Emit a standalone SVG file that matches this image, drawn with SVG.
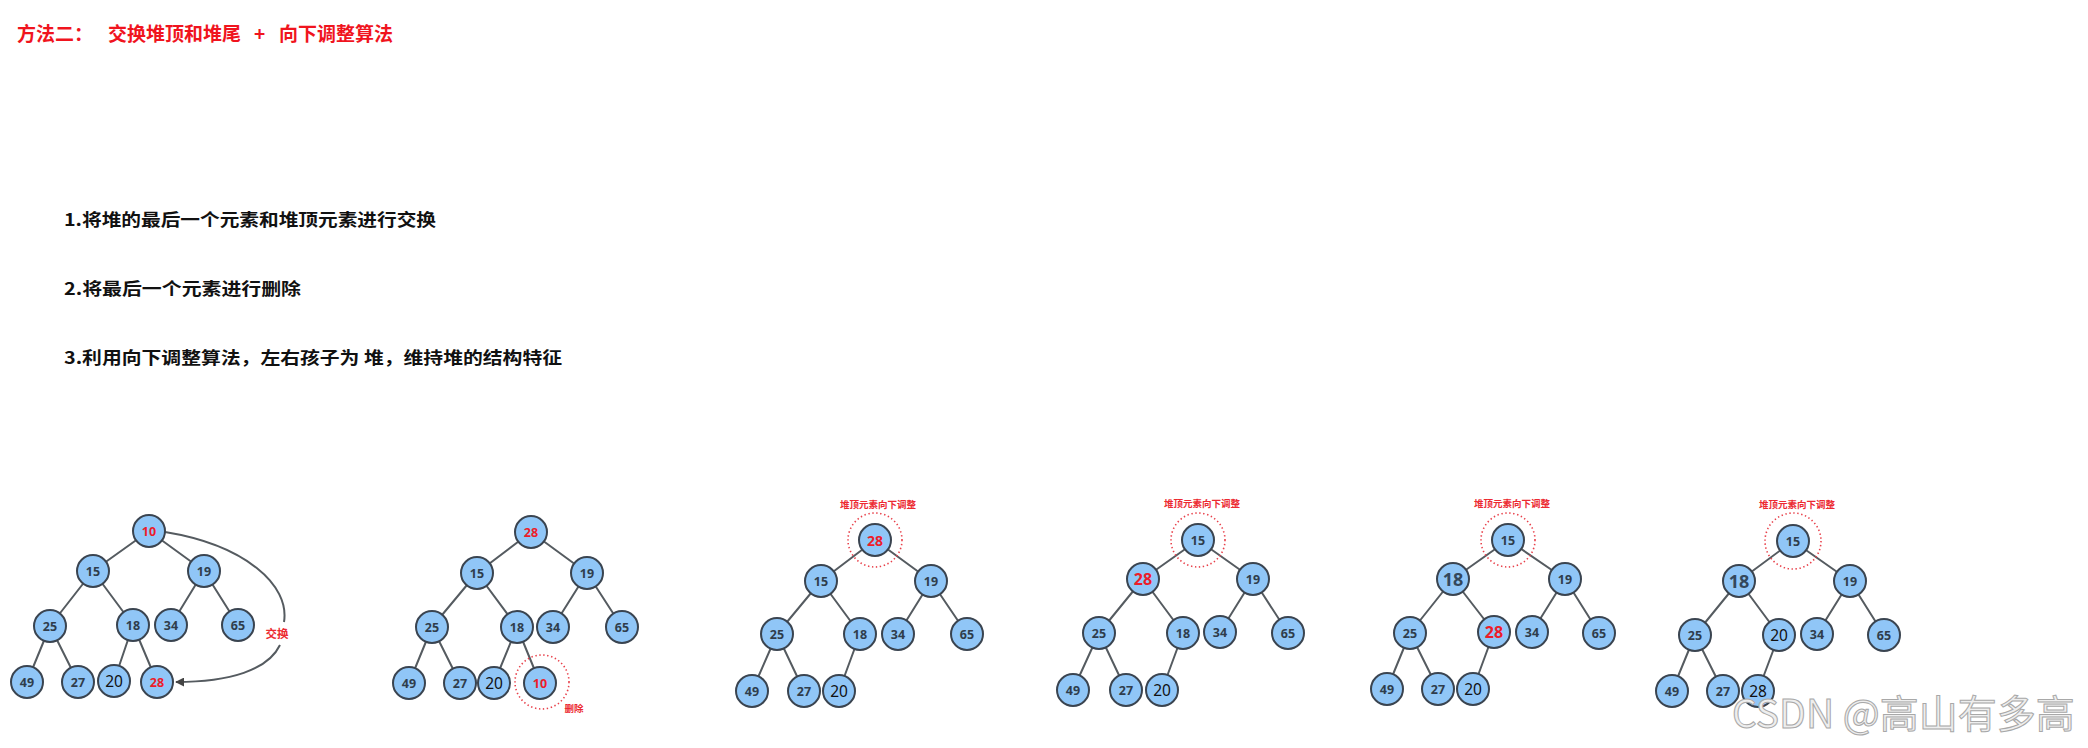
<svg xmlns="http://www.w3.org/2000/svg" width="2088" height="748" viewBox="0 0 2088 748">
<defs>
<style>
.bg{fill:#ffffff}
.title{font-family:"Noto Sans CJK SC","Noto Sans",sans-serif;font-weight:bold;font-size:19px;fill:#f0141e}
.step{font-family:"Noto Sans CJK SC","Noto Sans",sans-serif;font-weight:bold;font-size:17px;fill:#111111}
.e{stroke:#555b60;stroke-width:2;fill:none}
.n circle{fill:#90c6f7;stroke:#3a4450;stroke-width:2}
.n text{font-family:"Noto Sans","Liberation Sans",sans-serif;font-weight:bold;font-size:12.5px;fill:#2f3d4c;text-anchor:middle;dominant-baseline:central}
.n.r text{fill:#ec1c2a}
.n.p text{font-weight:normal;font-size:15.5px;fill:#111111}
.n.big text{font-size:18px;fill:#34485c}
.n.rb text{font-size:16px;fill:#ec1c2a}
.dot{fill:none;stroke:#e8404a;stroke-width:1.6;stroke-dasharray:1.4 2.6}
.lbl{font-family:"Noto Sans CJK SC","Noto Sans",sans-serif;font-weight:bold;font-size:9.5px;fill:#ec2a32;text-anchor:middle}
.wm{font-family:"Noto Sans CJK SC","Noto Sans",sans-serif;font-size:39px;fill:#eeeeee;stroke:#a8a8a8;stroke-width:1}
</style>
<marker id="ah" viewBox="0 0 10 10" refX="9" refY="5" markerWidth="9" markerHeight="9" orient="auto" markerUnits="userSpaceOnUse">
<path d="M0,0 L10,5 L0,10 z" fill="#444"/>
</marker>
</defs>
<rect class="bg" x="0" y="0" width="2088" height="748"/>

<g id="title">
<text class="title" y="41"><tspan x="17">方法二：</tspan><tspan x="108">交换堆顶和堆尾</tspan><tspan x="254">+</tspan><tspan x="279">向下调整算法</tspan></text>
</g>
<g id="steps">
<text class="step" x="64" y="226" textLength="372" lengthAdjust="spacingAndGlyphs">1.将堆的最后一个元素和堆顶元素进行交换</text>
<text class="step" x="64" y="295" textLength="237" lengthAdjust="spacingAndGlyphs">2.将最后一个元素进行删除</text>
<text class="step" x="64" y="364" textLength="498" lengthAdjust="spacingAndGlyphs">3.利用向下调整算法，左右孩子为 堆，维持堆的结构特征</text>
</g>

<g id="connectors">
<!-- tree 1 -->
<path class="e" d="M149,531L93,571M149,531L204,571M93,571L50,626M93,571L133,625M204,571L171,625M204,571L238,625M50,626L27,682M50,626L78,682M133,625L114,681M133,625L157,682"/>
<path class="e" d="M165,532 C245,545 290,585 284,622" />
<path class="e" d="M280,645 C268,670 230,682 176,682" marker-end="url(#ah)"/>
<!-- tree 2 -->
<path class="e" d="M531,532L477,573M531,532L587,573M477,573L432,627M477,573L517,627M587,573L553,627M587,573L622,627M432,627L409,683M432,627L460,683M517,627L494,683M517,627L540,683"/>
<!-- tree 3 -->
<path class="e" d="M875,540L821,581M875,540L931,581M821,581L777,634M821,581L860,634M931,581L898,634M931,581L967,634M777,634L752,691M777,634L804,691M860,634L839,691"/>
<!-- tree 4 -->
<path class="e" d="M1198,540L1143,579M1198,540L1253,579M1143,579L1099,633M1143,579L1183,633M1253,579L1220,632M1253,579L1288,633M1099,633L1073,690M1099,633L1126,690M1183,633L1162,690"/>
<!-- tree 5 -->
<path class="e" d="M1508,540L1453,579M1508,540L1565,579M1453,579L1410,633M1453,579L1494,632M1565,579L1532,632M1565,579L1599,633M1410,633L1387,689M1410,633L1438,689M1494,632L1473,689"/>
<!-- tree 6 -->
<path class="e" d="M1793,541L1739,581M1793,541L1850,581M1739,581L1695,635M1739,581L1779,635M1850,581L1817,634M1850,581L1884,635M1695,635L1672,691M1695,635L1723,691M1779,635L1758,691"/>
</g>

<!-- tree 1 nodes -->
<g id="t1-10" class="n r"><circle cx="149" cy="531" r="16"/><text x="149" y="531">10</text></g>
<g id="t1-15" class="n"><circle cx="93" cy="571" r="16"/><text x="93" y="571">15</text></g>
<g id="t1-19" class="n"><circle cx="204" cy="571" r="16"/><text x="204" y="571">19</text></g>
<g id="t1-25" class="n"><circle cx="50" cy="626" r="16"/><text x="50" y="626">25</text></g>
<g id="t1-18" class="n"><circle cx="133" cy="625" r="16"/><text x="133" y="625">18</text></g>
<g id="t1-34" class="n"><circle cx="171" cy="625" r="16"/><text x="171" y="625">34</text></g>
<g id="t1-65" class="n"><circle cx="238" cy="625" r="16"/><text x="238" y="625">65</text></g>
<g id="t1-49" class="n"><circle cx="27" cy="682" r="16"/><text x="27" y="682">49</text></g>
<g id="t1-27" class="n"><circle cx="78" cy="682" r="16"/><text x="78" y="682">27</text></g>
<g id="t1-20" class="n p"><circle cx="114" cy="681" r="16"/><text x="114" y="681">20</text></g>
<g id="t1-28" class="n r"><circle cx="157" cy="682" r="16"/><text x="157" y="682">28</text></g>
<g id="t1-swap"><text class="lbl" x="277" y="638" style="font-size:11.5px">交换</text></g>

<!-- tree 2 nodes -->
<g id="t2-28" class="n r"><circle cx="531" cy="532" r="16"/><text x="531" y="532">28</text></g>
<g id="t2-15" class="n"><circle cx="477" cy="573" r="16"/><text x="477" y="573">15</text></g>
<g id="t2-19" class="n"><circle cx="587" cy="573" r="16"/><text x="587" y="573">19</text></g>
<g id="t2-25" class="n"><circle cx="432" cy="627" r="16"/><text x="432" y="627">25</text></g>
<g id="t2-18" class="n"><circle cx="517" cy="627" r="16"/><text x="517" y="627">18</text></g>
<g id="t2-34" class="n"><circle cx="553" cy="627" r="16"/><text x="553" y="627">34</text></g>
<g id="t2-65" class="n"><circle cx="622" cy="627" r="16"/><text x="622" y="627">65</text></g>
<g id="t2-49" class="n"><circle cx="409" cy="683" r="16"/><text x="409" y="683">49</text></g>
<g id="t2-27" class="n"><circle cx="460" cy="683" r="16"/><text x="460" y="683">27</text></g>
<g id="t2-20" class="n p"><circle cx="494" cy="683" r="16"/><text x="494" y="683">20</text></g>
<g id="t2-10" class="n r"><circle cx="540" cy="683" r="16"/><text x="540" y="683">10</text></g>
<g id="t2-del"><circle class="dot" cx="542" cy="682" r="27"/><text class="lbl" x="574" y="712">删除</text></g>

<!-- tree 3 nodes -->
<g id="t3-hl"><circle class="dot" cx="875" cy="540" r="27"/><text class="lbl" x="878" y="508">堆顶元素向下调整</text></g>
<g id="t3-28" class="n r"><circle cx="875" cy="540" r="16"/><text x="875" y="540" style="font-size:14px">28</text></g>
<g id="t3-15" class="n"><circle cx="821" cy="581" r="16"/><text x="821" y="581">15</text></g>
<g id="t3-19" class="n"><circle cx="931" cy="581" r="16"/><text x="931" y="581">19</text></g>
<g id="t3-25" class="n"><circle cx="777" cy="634" r="16"/><text x="777" y="634">25</text></g>
<g id="t3-18" class="n"><circle cx="860" cy="634" r="16"/><text x="860" y="634">18</text></g>
<g id="t3-34" class="n"><circle cx="898" cy="634" r="16"/><text x="898" y="634">34</text></g>
<g id="t3-65" class="n"><circle cx="967" cy="634" r="16"/><text x="967" y="634">65</text></g>
<g id="t3-49" class="n"><circle cx="752" cy="691" r="16"/><text x="752" y="691">49</text></g>
<g id="t3-27" class="n"><circle cx="804" cy="691" r="16"/><text x="804" y="691">27</text></g>
<g id="t3-20" class="n p"><circle cx="839" cy="691" r="16"/><text x="839" y="691">20</text></g>

<!-- tree 4 nodes -->
<g id="t4-hl"><circle class="dot" cx="1198" cy="540" r="27"/><text class="lbl" x="1202" y="507">堆顶元素向下调整</text></g>
<g id="t4-15" class="n"><circle cx="1198" cy="540" r="16"/><text x="1198" y="540">15</text></g>
<g id="t4-28" class="n rb"><circle cx="1143" cy="579" r="16"/><text x="1143" y="579">28</text></g>
<g id="t4-19" class="n"><circle cx="1253" cy="579" r="16"/><text x="1253" y="579">19</text></g>
<g id="t4-25" class="n"><circle cx="1099" cy="633" r="16"/><text x="1099" y="633">25</text></g>
<g id="t4-18" class="n"><circle cx="1183" cy="633" r="16"/><text x="1183" y="633">18</text></g>
<g id="t4-34" class="n"><circle cx="1220" cy="632" r="16"/><text x="1220" y="632">34</text></g>
<g id="t4-65" class="n"><circle cx="1288" cy="633" r="16"/><text x="1288" y="633">65</text></g>
<g id="t4-49" class="n"><circle cx="1073" cy="690" r="16"/><text x="1073" y="690">49</text></g>
<g id="t4-27" class="n"><circle cx="1126" cy="690" r="16"/><text x="1126" y="690">27</text></g>
<g id="t4-20" class="n p"><circle cx="1162" cy="690" r="16"/><text x="1162" y="690">20</text></g>

<!-- tree 5 nodes -->
<g id="t5-hl"><circle class="dot" cx="1508" cy="540" r="27"/><text class="lbl" x="1512" y="507">堆顶元素向下调整</text></g>
<g id="t5-15" class="n"><circle cx="1508" cy="540" r="16"/><text x="1508" y="540">15</text></g>
<g id="t5-18" class="n big"><circle cx="1453" cy="579" r="16"/><text x="1453" y="579">18</text></g>
<g id="t5-19" class="n"><circle cx="1565" cy="579" r="16"/><text x="1565" y="579">19</text></g>
<g id="t5-25" class="n"><circle cx="1410" cy="633" r="16"/><text x="1410" y="633">25</text></g>
<g id="t5-28" class="n rb"><circle cx="1494" cy="632" r="16"/><text x="1494" y="632">28</text></g>
<g id="t5-34" class="n"><circle cx="1532" cy="632" r="16"/><text x="1532" y="632">34</text></g>
<g id="t5-65" class="n"><circle cx="1599" cy="633" r="16"/><text x="1599" y="633">65</text></g>
<g id="t5-49" class="n"><circle cx="1387" cy="689" r="16"/><text x="1387" y="689">49</text></g>
<g id="t5-27" class="n"><circle cx="1438" cy="689" r="16"/><text x="1438" y="689">27</text></g>
<g id="t5-20" class="n p"><circle cx="1473" cy="689" r="16"/><text x="1473" y="689">20</text></g>

<!-- tree 6 nodes -->
<g id="t6-hl"><circle class="dot" cx="1793" cy="541" r="28"/><text class="lbl" x="1797" y="508">堆顶元素向下调整</text></g>
<g id="t6-15" class="n"><circle cx="1793" cy="541" r="16"/><text x="1793" y="541">15</text></g>
<g id="t6-18" class="n big"><circle cx="1739" cy="581" r="16"/><text x="1739" y="581">18</text></g>
<g id="t6-19" class="n"><circle cx="1850" cy="581" r="16"/><text x="1850" y="581">19</text></g>
<g id="t6-25" class="n"><circle cx="1695" cy="635" r="16"/><text x="1695" y="635">25</text></g>
<g id="t6-20" class="n p"><circle cx="1779" cy="635" r="16"/><text x="1779" y="635">20</text></g>
<g id="t6-34" class="n"><circle cx="1817" cy="634" r="16"/><text x="1817" y="634">34</text></g>
<g id="t6-65" class="n"><circle cx="1884" cy="635" r="16"/><text x="1884" y="635">65</text></g>
<g id="t6-49" class="n"><circle cx="1672" cy="691" r="16"/><text x="1672" y="691">49</text></g>
<g id="t6-27" class="n"><circle cx="1723" cy="691" r="16"/><text x="1723" y="691">27</text></g>
<g id="t6-28" class="n p"><circle cx="1758" cy="691" r="16"/><text x="1758" y="691">28</text></g>

<g id="watermark"><text class="wm" x="1732" y="728">CSDN @高山有多高</text></g>
</svg>
